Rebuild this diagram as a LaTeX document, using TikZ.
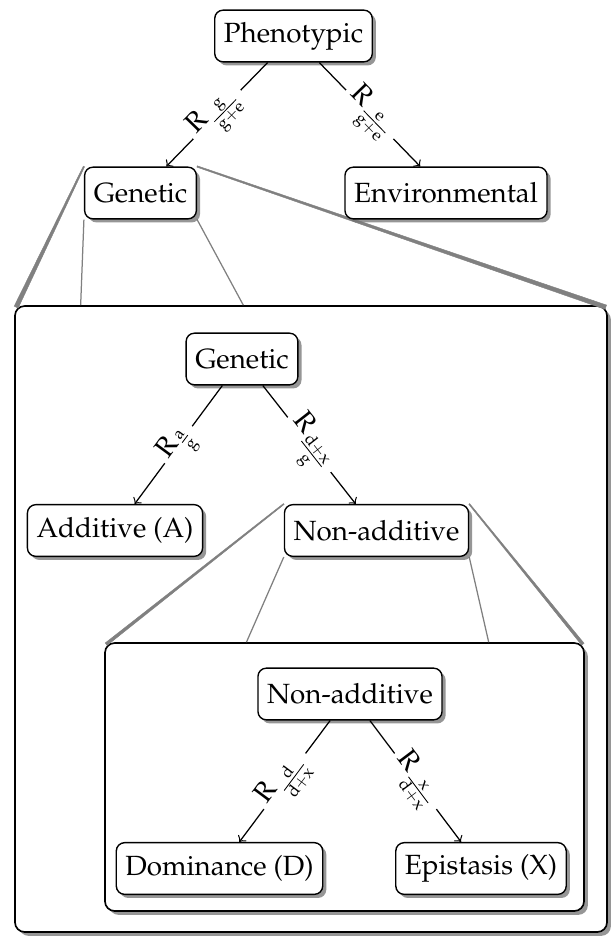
\documentclass[tikz,border=0pt]{standalone}
\usepackage[T1]{fontenc}
\usepackage{mathpazo}
\usetikzlibrary{shadows,fit,calc}
\pgfdeclarelayer{back}
\pgfdeclarelayer{mid}
\pgfsetlayers{back,mid,main}
\tikzset{
  nbox/.style={draw, line width=0.5pt, rounded corners=3pt, fill=white,
    minimum height=18.6pt, inner xsep=3.3pt, inner ysep=0pt,
    drop shadow={shadow xshift=1.3pt, shadow yshift=-1.3pt, fill=black!55, opacity=0.75}},
  bigbox/.style={draw, line width=0.6pt, rounded corners=3.5pt, fill=white, inner sep=0pt,
    drop shadow={shadow xshift=1.4pt, shadow yshift=-1.4pt, fill=black!55, opacity=0.75}},
  lbl/.style={sloped, fill=white, inner sep=1.8pt, font=\normalsize},
  arr/.style={->, line width=0.45pt},
  thinlink/.style={draw=gray, line width=0.45pt},
  wedge/.style={fill=gray, draw=gray, line width=0.15pt}
}
\begin{document}
\begin{tikzpicture}[x=0.36pt,y=-0.36pt]
\useasboundingbox (0,0) rectangle (612,938);
\coordinate (o1) at (15,306);
\coordinate (o2) at (607,932);
\coordinate (i1) at (105,643);
\coordinate (i2) at (584,911);
\begin{pgfonlayer}{back}
\node[bigbox, fit=(o1)(o2)] (outer) {};
\node[bigbox, fit=(i1)(i2)] (inner) {};
\end{pgfonlayer}

\node[nbox] (phen) at (293.5,36) {Phenotypic};
\node[nbox] (gen) at (140.5,193) {Genetic};
\node[nbox] (env) at (446,193) {Environmental};
\node[nbox] (gen2) at (242,359) {Genetic};
\node[nbox] (add) at (115,530.5) {Additive (A)};
\node[nbox] (nadd) at (376.5,530.5) {Non-additive};
\node[nbox] (nadd2) at (350,694) {Non-additive};
\node[nbox] (dom) at (219.5,868.5) {Dominance (D)};
\node[nbox] (epi) at (481,868.5) {Epistasis (X)};

\coordinate (oA) at ($(outer.north west)+(2,2)$);
\coordinate (oB) at ($(outer.north east)+(-2,2)$);
\coordinate (oC) at ($(outer.north west)!0.112!(outer.north east)$);
\coordinate (oD) at ($(outer.north west)!0.386!(outer.north east)$);
\coordinate (iA) at ($(inner.north west)+(2,2)$);
\coordinate (iB) at ($(inner.north east)+(-2,2)$);
\coordinate (iC) at ($(inner.north west)!0.296!(inner.north east)$);
\coordinate (iD) at ($(inner.north west)!0.80!(inner.north east)$);

\begin{pgfonlayer}{mid}
\filldraw[wedge] ($(gen.north west)!0.25pt!90:(oA)$) -- ($(oA)!0.8pt!-90:(gen.north west)$) -- ($(oA)!0.8pt!90:(gen.north west)$) -- ($(gen.north west)!0.25pt!-90:(oA)$) -- cycle;
\filldraw[wedge] ($(gen.north east)!0.25pt!90:(oB)$) -- ($(oB)!0.8pt!-90:(gen.north east)$) -- ($(oB)!0.8pt!90:(gen.north east)$) -- ($(gen.north east)!0.25pt!-90:(oB)$) -- cycle;
\draw[thinlink] (gen.south west) -- (oC);
\draw[thinlink] (gen.south east) -- (oD);
\filldraw[wedge] ($(nadd.north west)!0.2pt!90:(iA)$) -- ($(iA)!0.55pt!-90:(nadd.north west)$) -- ($(iA)!0.55pt!90:(nadd.north west)$) -- ($(nadd.north west)!0.2pt!-90:(iA)$) -- cycle;
\filldraw[wedge] ($(nadd.north east)!0.2pt!90:(iB)$) -- ($(iB)!0.55pt!-90:(nadd.north east)$) -- ($(iB)!0.55pt!90:(nadd.north east)$) -- ($(nadd.north east)!0.2pt!-90:(iB)$) -- cycle;
\draw[thinlink] (nadd.south west) -- (iC);
\draw[thinlink] (nadd.south east) -- (iD);
\end{pgfonlayer}

\draw[arr] (phen) -- node[lbl] {$\mathrm{R}_{\frac{\mathrm{g}}{\mathrm{g+e}}}$} (gen);
\draw[arr] (phen) -- node[lbl] {$\mathrm{R}_{\frac{\mathrm{e}}{\mathrm{g+e}}}$} (env);
\draw[arr] (gen2) -- node[lbl] {$\mathrm{R}_{\frac{\mathrm{a}}{\mathrm{g}}}$} (add);
\draw[arr] (gen2) -- node[lbl] {$\mathrm{R}_{\frac{\mathrm{d+x}}{\mathrm{g}}}$} (nadd);
\draw[arr] (nadd2) -- node[lbl] {$\mathrm{R}_{\frac{\mathrm{d}}{\mathrm{d+x}}}$} (dom);
\draw[arr] (nadd2) -- node[lbl] {$\mathrm{R}_{\frac{\mathrm{x}}{\mathrm{d+x}}}$} (epi);
\end{tikzpicture}
\end{document}
